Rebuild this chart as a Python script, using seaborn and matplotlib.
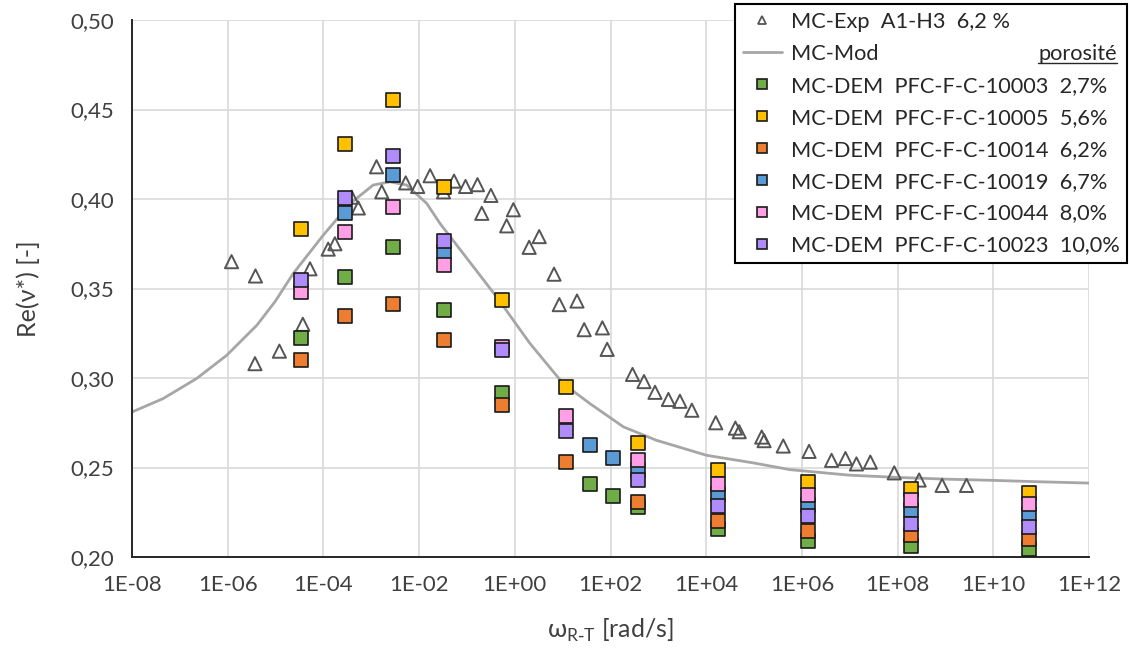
import numpy as np
import pandas as pd
import matplotlib
matplotlib.use("Agg")
import matplotlib.pyplot as plt
import seaborn as sns
from matplotlib.lines import Line2D
from matplotlib.ticker import FuncFormatter, FixedLocator

# Données (exposants log10 de omega)
exp_exp = [-5.92, -5.42, -5.43, -4.92, -4.43, -4.28, -3.90, -3.76, -3.41, -3.27,
           -2.89, -2.78, -2.28, -2.03, -1.77, -1.49, -1.27, -1.03, -0.78, -0.69,
           -0.50, -0.17, -0.03, 0.30, 0.51, 0.82, 0.93, 1.30, 1.45, 1.83,
           1.93, 2.46, 2.70, 2.93, 3.21, 3.45, 3.70, 4.20, 4.61, 4.69,
           5.16, 5.21, 5.61, 6.15, 6.62, 6.91, 7.14, 7.43, 7.93, 8.45,
           8.93, 9.44]
exp_val = [0.365, 0.357, 0.308, 0.315, 0.330, 0.361, 0.372, 0.375, 0.401, 0.395,
           0.418, 0.404, 0.409, 0.407, 0.413, 0.404, 0.410, 0.407, 0.408, 0.392,
           0.402, 0.385, 0.394, 0.373, 0.379, 0.358, 0.341, 0.343, 0.327, 0.328,
           0.316, 0.302, 0.298, 0.292, 0.288, 0.287, 0.282, 0.275, 0.272, 0.270,
           0.267, 0.265, 0.262, 0.259, 0.254, 0.255, 0.252, 0.253, 0.247, 0.243,
           0.240, 0.240]

mod_exp = [-8.0, -7.35, -6.65, -6.02, -5.39, -5.01, -4.63, -4.0, -3.44, -2.96,
           -2.61, -2.26, -1.84, -1.56, -1.08, -0.38, 0.32, 1.01, 1.57, 2.27,
           2.96, 4.01, 5.0, 5.75, 7.0, 8.05, 9.0, 10.0, 11.0, 12.0]
mod_val = [0.281, 0.2885, 0.2997, 0.3127, 0.3295, 0.3427, 0.3584, 0.3799, 0.3975, 0.4078,
           0.4096, 0.4078, 0.3975, 0.3862, 0.3696, 0.3453, 0.3192, 0.2969, 0.2857, 0.2727,
           0.2652, 0.2568, 0.2525, 0.2488, 0.2457, 0.2444, 0.2435, 0.2428, 0.2420, 0.2413]

x_main = [-4.47, -3.55, -2.55, -1.47, -0.26, 1.08, 2.57, 4.25, 6.13, 8.27, 10.75]
x_green = [-4.47, -3.55, -2.55, -1.47, -0.26, 1.57, 2.06, 2.57, 4.25, 6.13, 8.27, 10.75]
x_blue = [-3.55, -2.55, -1.47, 1.57, 2.06, 2.57, 4.25, 6.13, 8.27, 10.75]

y_10003 = [0.3226, 0.3565, 0.3733, 0.338, 0.2914, 0.2407, 0.2339, 0.228, 0.2154, 0.2088, 0.206, 0.2042]
y_10005 = [0.3832, 0.4305, 0.4553, 0.4068, 0.3435, 0.295, 0.2637, 0.2485, 0.2419, 0.2382, 0.236]
y_10014 = [0.3103, 0.3345, 0.3414, 0.3215, 0.2848, 0.2528, 0.2307, 0.220, 0.2144, 0.2121, 0.2103]
y_10019 = [0.3919, 0.4134, 0.3705, 0.2628, 0.2554, 0.2485, 0.2354, 0.2293, 0.2265, 0.2242]
y_10044 = [0.3481, 0.3817, 0.3953, 0.3634, 0.3175, 0.2788, 0.2541, 0.2407, 0.2345, 0.2317, 0.2298]
y_10023 = [0.3547, 0.4007, 0.424, 0.3765, 0.3155, 0.2704, 0.243, 0.2285, 0.2229, 0.2187, 0.2168]

dem_series = [
    ("MC-DEM  PFC-F-C-10003  2,7%", x_green, y_10003, "#70AD47"),
    ("MC-DEM  PFC-F-C-10005  5,6%", x_main, y_10005, "#FFC000"),
    ("MC-DEM  PFC-F-C-10014  6,2%", x_main, y_10014, "#ED7D31"),
    ("MC-DEM  PFC-F-C-10019  6,7%", x_blue, y_10019, "#5B9BD5"),
    ("MC-DEM  PFC-F-C-10044  8,0%", x_main, y_10044, "#FFA0E6"),
    ("MC-DEM  PFC-F-C-10023  10,0%", x_main, y_10023, "#B08CFA"),
]

sns.set_style("white")
plt.rcParams['font.family'] = ['Lato', 'DejaVu Sans']

fig = plt.figure(figsize=(11.31, 6.5), dpi=100)
ax = fig.add_axes([132 / 1131, 93 / 650, 957 / 1131, 537 / 650])

# courbe modèle
df_mod = pd.DataFrame({"w": 10.0 ** np.array(mod_exp), "v": mod_val})
sns.lineplot(data=df_mod, x="w", y="v", ax=ax, color="#A6A6A6", linewidth=2.0,
             zorder=2, legend=False)

# expérimental
df_exp = pd.DataFrame({"w": 10.0 ** np.array(exp_exp), "v": exp_val})
sns.scatterplot(data=df_exp, x="w", y="v", ax=ax, marker="^", s=90,
                facecolor="none", edgecolor="#555555", linewidth=1.4,
                zorder=3, legend=False)

# simulations DEM
for i, (lab, xs, ys, col) in enumerate(dem_series):
    d = pd.DataFrame({"w": 10.0 ** np.array(xs), "v": ys})
    sns.scatterplot(data=d, x="w", y="v", ax=ax, marker="s", s=110,
                    color=col, edgecolor="#1a1a1a", linewidth=1.2,
                    zorder=4 + i, legend=False)

ax.set_xscale("log")
ax.set_xlim(1e-8, 1e12)
ax.set_ylim(0.20, 0.50)
ax.xaxis.set_major_locator(FixedLocator([10.0 ** k for k in range(-8, 13, 2)]))
ax.xaxis.set_minor_locator(FixedLocator([]))
ax.xaxis.set_major_formatter(FuncFormatter(lambda v, p: f"1E{int(round(np.log10(v))):+03d}"))
ax.set_yticks(np.arange(0.20, 0.501, 0.05))
ax.yaxis.set_major_formatter(FuncFormatter(lambda v, p: f"{v:.2f}".replace(".", ",")))

ax.grid(True, color="#D9D9D9", linewidth=1.2)
ax.set_axisbelow(True)
for s in ["top", "right"]:
    ax.spines[s].set_visible(False)
for s in ["left", "bottom"]:
    ax.spines[s].set_color("#262626")
    ax.spines[s].set_linewidth(1.4)
ax.tick_params(axis="both", direction="out", length=7, width=1.2, color="#262626",
               labelsize=16, labelcolor="#404040", pad=6)

ax.set_xlabel(r"ω$_\mathregular{R\text{-}T}$ [rad/s]", fontsize=18, color="#404040", labelpad=16)
ax.set_ylabel("Re(ν*) [-]", fontsize=18, color="#404040", labelpad=22)

handles = [
    Line2D([], [], linestyle="none", marker="^", markersize=6, markerfacecolor="none",
           markeredgecolor="#555555", markeredgewidth=1.3),
    Line2D([], [], color="#A6A6A6", linewidth=2.0),
]
labels = ["MC-Exp  A1-H3  6,2 %", "MC-Mod"]
for lab, xs, ys, col in dem_series:
    handles.append(Line2D([], [], linestyle="none", marker="s", markersize=7.5,
                          markerfacecolor=col, markeredgecolor="#1a1a1a", markeredgewidth=1.2))
    labels.append(lab)

leg = ax.legend(handles, labels, loc="upper right", bbox_to_anchor=(1127 / 1131, 1 - 4 / 650),
                bbox_transform=fig.transFigure, fontsize=15.7, frameon=True, fancybox=False,
                framealpha=1, edgecolor="black", borderpad=0.35, labelspacing=0.55,
                handlelength=1.8, handletextpad=0.4, borderaxespad=0)
leg.get_frame().set_linewidth(1.5)
for t in leg.get_texts():
    t.set_color("#262626")

fig.canvas.draw()
r = fig.canvas.get_renderer()
tb = leg.get_texts()[1].get_window_extent(r)
fb = leg.get_frame().get_window_extent(r)
px_x = fb.x1 - 10
px_y = (tb.y0 + tb.y1) / 2
t_por = fig.text(px_x / fig.bbox.width, px_y / fig.bbox.height, "porosité", ha="right",
                 va="center", fontsize=15.7, color="#262626")
fig.canvas.draw()
pb = t_por.get_window_extent(r)
uy = (pb.y0 + 1) / fig.bbox.height
fig.add_artist(Line2D([pb.x0 / fig.bbox.width, pb.x1 / fig.bbox.width], [uy, uy],
                      color="#262626", linewidth=1.0, transform=fig.transFigure))

fig.savefig("out.png", dpi=100)
